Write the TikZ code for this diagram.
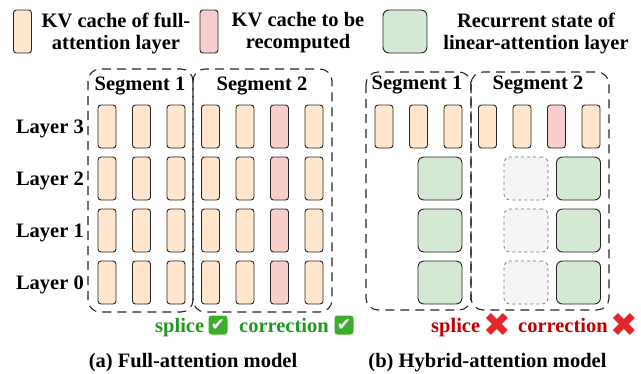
\documentclass[tikz,border=0pt]{standalone}
\usepackage{fontspec}
\setmainfont{Liberation Serif}
\newfontfamily\symfont{DejaVu Sans}
\usetikzlibrary{positioning}
\definecolor{kvorange}{HTML}{FFE6CC}
\definecolor{kvpink}{HTML}{F8CECC}
\definecolor{stgreen}{HTML}{D5E8D4}
\definecolor{okgreen}{HTML}{1E9B1E}
\definecolor{badred}{HTML}{C00000}
\definecolor{xred}{HTML}{E3262B}
\definecolor{chkgreen}{HTML}{3DAE2B}
\newcommand{\bigfont}{\bfseries\fontsize{20.5}{22}\selectfont}
\tikzset{
  kv/.style={draw=black!85, fill=kvorange, rounded corners=3pt, line width=0.9pt,
    minimum width=18pt, minimum height=43pt, inner sep=0pt},
  kvredo/.style={kv, fill=kvpink},
  linst/.style={draw=black!85, fill=stgreen, rounded corners=6pt, line width=0.9pt,
    minimum width=44pt, minimum height=43pt, inner sep=0pt},
  lost/.style={linst, draw=black!55, fill=black!4, dashed, line width=0.7pt},
  segbox/.style={draw=black!85, line width=1.1pt, dash pattern=on 9pt off 6pt, rounded corners=12pt},
  txt/.style={font=\bigfont, inner sep=0pt},
  okbox/.style={fill=chkgreen, rounded corners=3pt, minimum size=19pt, inner sep=0pt,
    text=white, font=\symfont\bfseries\fontsize{17}{17}\selectfont},
  nobox/.style={text=xred, inner sep=0pt, font=\symfont\bfseries\fontsize{33}{33}\selectfont},
}
\begin{document}
\begin{tikzpicture}[x=1pt,y=-1pt]
\useasboundingbox (0,0) rectangle (641,373);
% legend
\node[kv] (legkv) at (22.5,31.5) {};
\node[txt, align=center] (legkvtxt) at (116,33) {KV cache of full-\\attention layer};
\node[kvredo] (legredo) at (209,31.5) {};
\node[txt, align=center] (legredotxt) at (298,33) {KV cache to be\\recomputed};
\node[linst] (legst) at (405,31.5) {};
\node[txt, align=center] (legsttxt) at (536,33) {Recurrent state of\\linear-attention layer};
% (a) full-attention model
\draw[segbox] (88,69) rectangle (193,312);
\draw[segbox] (193,69) rectangle (332,312);
\node[txt, anchor=base] (fsegone) at (140,90) {Segment 1};
\node[txt, anchor=base] (fsegtwo) at (262,90) {Segment 2};
\foreach \l/\y in {3/126.5,2/178.5,1/230.5,0/282.5}
{
\node[txt, anchor=base east] (lay\l) at (84,\y+6.5) {Layer \l};
\foreach \c/\s in {1/kv,2/kv,3/kv,4/kv,5/kv,6/kvredo,7/kv}
  \node[\s] (f\c-\l) at (107+34.5*\c-34.5,\y) {};
}
\node[txt, text=okgreen, anchor=base west] (fsplice) at (155,332) {splice};
\node[okbox] (fokone) at (218,325) {✔};
\node[txt, text=okgreen, anchor=base west] (fcorr) at (239,332) {correction};
\node[okbox] (foktwo) at (344,325) {✔};
\node[txt, anchor=base] (fcap) at (193,367) {(a) Full-attention model};
% (b) hybrid-attention model
\draw[segbox] (366,72) rectangle (471,310);
\draw[segbox] (471,72) rectangle (609,310);
\node[txt, anchor=base] (hsegone) at (417,89) {Segment 1};
\node[txt, anchor=base] (hsegtwo) at (538,89) {Segment 2};
\foreach \c/\s in {1/kv,2/kv,3/kv,4/kv,5/kv,6/kvredo,7/kv}
  \node[\s] (h\c-3) at (384+34.5*\c-34.5,126.5) {};
\foreach \l/\y in {2/178.5,1/230.5,0/282.5}
{
\node[linst] (hsa\l) at (440,\y) {};
\node[lost] (hlost\l) at (526,\y) {};
\node[linst] (hsb\l) at (578.5,\y) {};
}
\node[txt, text=badred, anchor=base west] (hsplice) at (431,332) {splice};
\node[nobox] (hnoone) at (497,325) {✖};
\node[txt, text=badred, anchor=base west] (hcorr) at (518,332) {correction};
\node[nobox] (hnotwo) at (624,325) {✖};
\node[txt, anchor=base] (hcap) at (487.5,367) {(b) Hybrid-attention model};
\end{tikzpicture}
\end{document}
